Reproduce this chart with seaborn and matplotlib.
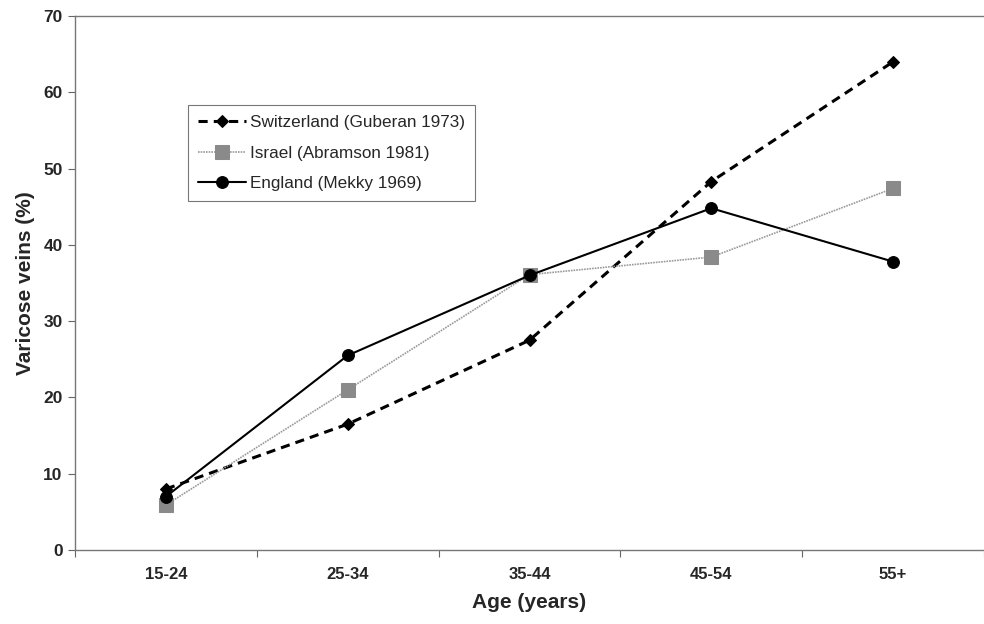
import numpy as np
import pandas as pd
import matplotlib
matplotlib.use("Agg")
import matplotlib.pyplot as plt
import seaborn as sns

ages = ["15-24", "25-34", "35-44", "45-54", "55+"]
switzerland = [8.0, 16.5, 27.5, 48.3, 64.0]
israel = [5.9, 21.0, 36.1, 38.4, 47.4]
england = [7.0, 25.5, 36.0, 44.8, 37.8]
series_names = ["Switzerland (Guberan 1973)", "Israel (Abramson 1981)", "England (Mekky 1969)"]

sns.set_style("white")
plt.rcParams['font.family'] = ['Liberation Sans', 'DejaVu Sans']

fig = plt.figure(figsize=(9.84, 6.24), dpi=100)
ax = fig.add_axes([75/984, 74/624, 1 - 75/984, (550-16)/624])

xpos = np.arange(len(ages))
styles = [
    dict(color="black", linestyle=(0, (3, 2)), linewidth=2.2, marker="D", markersize=6.5,
         markerfacecolor="black", markeredgecolor="black"),
    dict(color="#9a9a9a", linestyle=(0, (1, 0.6)), linewidth=1.2, marker="s", markersize=10,
         markerfacecolor="#8a8a8a", markeredgecolor="#8a8a8a"),
    dict(color="black", linestyle="-", linewidth=1.5, marker="o", markersize=8.5,
         markerfacecolor="black", markeredgecolor="black"),
]
for name, vals, st in zip(series_names, [switzerland, israel, england], styles):
    df = pd.DataFrame({"x": xpos, "y": vals})
    sns.lineplot(data=df, x="x", y="y", ax=ax, label=name, **st)

ax.set_xlim(-0.5, 4.48)
ax.set_ylim(0, 70)
ax.set_yticks(np.arange(0, 71, 10))
ax.set_xticks(np.arange(-0.5, 5, 1))
ax.set_xticklabels([])
ax.set_xticks(xpos, minor=True)
ax.set_xticklabels(ages, minor=True, fontsize=12, fontweight="bold")
ax.tick_params(axis="x", which="major", length=5, direction="out", color="#666666", bottom=True)
ax.tick_params(axis="x", which="minor", length=0, pad=12, bottom=True)
ax.tick_params(axis="y", length=5, direction="out", color="#666666", left=True, labelsize=12.5, pad=4)
for lab in ax.get_yticklabels():
    lab.set_fontweight("bold")

for s in ["left", "bottom", "top"]:
    ax.spines[s].set_color("#777777")
    ax.spines[s].set_linewidth(1.0)
ax.spines["right"].set_visible(False)

ax.set_xlabel("Age (years)", fontsize=15, fontweight="bold", labelpad=8)
ax.set_ylabel("Varicose veins (%)", fontsize=15, fontweight="bold", labelpad=6)

leg = ax.legend(loc="upper left", bbox_to_anchor=((188-75)/909, (550-105)/534), frameon=True,
                fancybox=False, edgecolor="#555555", fontsize=12.3, handlelength=2.8,
                borderpad=0.6, labelspacing=0.9, handletextpad=0.2, borderaxespad=0)
leg.get_frame().set_linewidth(0.8)

fig.savefig("out.png", dpi=100)
